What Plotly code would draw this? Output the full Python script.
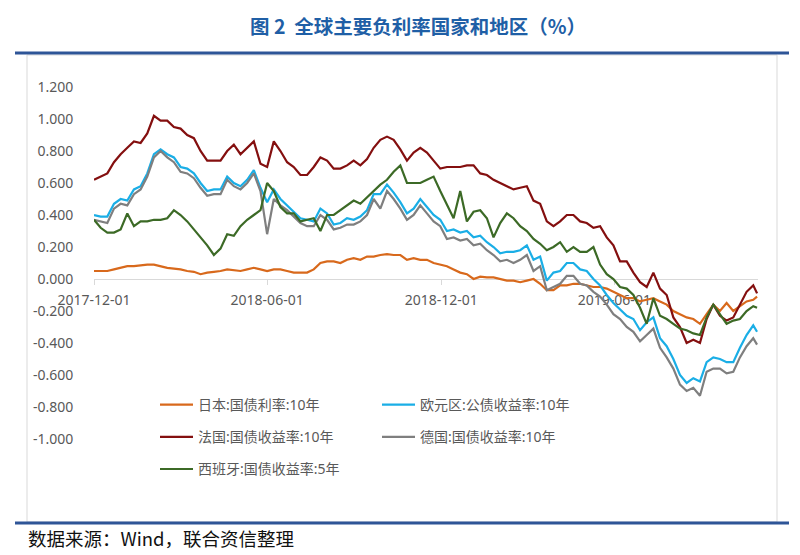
import pandas as pd
import plotly.graph_objects as go

# ---------------- data (weekly) ----------------
dates = list(pd.date_range("2017-12-01", periods=100, freq="7D").strftime("%Y-%m-%d")) + ["2019-10-29"]

japan = [0.05, 0.05, 0.05, 0.06, 0.07, 0.08, 0.08, 0.085, 0.09, 0.09,
         0.08, 0.07, 0.065, 0.06, 0.05, 0.045, 0.03, 0.04, 0.045, 0.05,
         0.06, 0.055, 0.05, 0.06, 0.07, 0.06, 0.05, 0.06, 0.06, 0.05,
         0.04, 0.04, 0.04, 0.06, 0.10, 0.11, 0.11, 0.10, 0.12, 0.13,
         0.12, 0.14, 0.14, 0.15, 0.155, 0.15, 0.15, 0.12, 0.13, 0.12,
         0.12, 0.10, 0.09, 0.08, 0.06, 0.04, 0.03, 0.00, 0.015, 0.01,
         0.01, 0.00, -0.01, -0.01, -0.02, -0.01, 0.00, -0.03, -0.07, -0.07,
         -0.04, -0.04, -0.03, -0.03, -0.04, -0.05, -0.05, -0.06, -0.08, -0.10,
         -0.12, -0.12, -0.14, -0.13, -0.12, -0.14, -0.16, -0.20, -0.22, -0.24,
         -0.25, -0.28, -0.22, -0.16, -0.20, -0.15, -0.20, -0.17, -0.14, -0.13,
         -0.11]

euro = [0.40, 0.39, 0.39, 0.47, 0.50, 0.49, 0.56, 0.58, 0.66, 0.78,
        0.81, 0.78, 0.76, 0.70, 0.69, 0.66, 0.60, 0.55, 0.56, 0.56,
        0.64, 0.60, 0.58, 0.62, 0.68, 0.57, 0.48, 0.56, 0.50, 0.46,
        0.42, 0.38, 0.37, 0.36, 0.44, 0.41, 0.34, 0.35, 0.38, 0.37,
        0.39, 0.43, 0.53, 0.53, 0.59, 0.54, 0.48, 0.41, 0.44, 0.50,
        0.45, 0.40, 0.37, 0.30, 0.31, 0.29, 0.30, 0.26, 0.27, 0.23,
        0.20, 0.16, 0.17, 0.17, 0.18, 0.21, 0.12, 0.14, -0.01, 0.04,
        0.05, 0.10, 0.10, 0.06, 0.05, 0.00, -0.04, -0.10, -0.15, -0.19,
        -0.23, -0.25, -0.32, -0.27, -0.24, -0.37, -0.42, -0.50, -0.60, -0.65,
        -0.62, -0.64, -0.52, -0.49, -0.50, -0.52, -0.52, -0.43, -0.35, -0.29,
        -0.33]

france = [0.62, 0.64, 0.66, 0.73, 0.78, 0.82, 0.86, 0.85, 0.91, 1.02,
          0.99, 0.99, 0.95, 0.94, 0.90, 0.88, 0.80, 0.74, 0.74, 0.74,
          0.80, 0.84, 0.78, 0.82, 0.86, 0.72, 0.70, 0.86, 0.80, 0.73,
          0.70, 0.65, 0.65, 0.70, 0.76, 0.74, 0.69, 0.69, 0.71, 0.74,
          0.71, 0.75, 0.82, 0.87, 0.89, 0.87, 0.81, 0.74, 0.79, 0.82,
          0.79, 0.74, 0.69, 0.70, 0.70, 0.70, 0.71, 0.71, 0.66, 0.65,
          0.62, 0.60, 0.58, 0.56, 0.57, 0.58, 0.49, 0.47, 0.36, 0.33,
          0.36, 0.40, 0.40, 0.36, 0.35, 0.32, 0.33, 0.26, 0.21, 0.11,
          0.11, 0.04, -0.02, -0.05, 0.04, -0.06, -0.10, -0.24, -0.30, -0.40,
          -0.38, -0.40, -0.25, -0.16, -0.23, -0.26, -0.24, -0.16, -0.08, -0.04,
          -0.09]

germany = [0.37, 0.36, 0.35, 0.44, 0.47, 0.46, 0.53, 0.56, 0.64, 0.76,
           0.80, 0.76, 0.73, 0.67, 0.66, 0.63, 0.57, 0.52, 0.53, 0.53,
           0.62, 0.58, 0.56, 0.60, 0.66, 0.55, 0.28, 0.50, 0.46, 0.43,
           0.39, 0.35, 0.33, 0.33, 0.40, 0.37, 0.31, 0.32, 0.34, 0.34,
           0.36, 0.40, 0.50, 0.44, 0.55, 0.50, 0.44, 0.37, 0.40, 0.46,
           0.41, 0.36, 0.33, 0.25, 0.26, 0.24, 0.25, 0.21, 0.22, 0.18,
           0.15, 0.11, 0.12, 0.10, 0.12, 0.15, 0.05, 0.08, -0.07, -0.05,
           -0.03, 0.02, 0.02, -0.03, -0.04, -0.08, -0.11, -0.16, -0.22, -0.25,
           -0.30, -0.33, -0.39, -0.35, -0.31, -0.43, -0.49, -0.56, -0.66, -0.70,
           -0.68, -0.73, -0.58, -0.56, -0.56, -0.59, -0.58, -0.49, -0.42, -0.37,
           -0.41]

spain = [0.37, 0.32, 0.29, 0.29, 0.31, 0.41, 0.33, 0.36, 0.36, 0.37,
         0.37, 0.38, 0.43, 0.40, 0.36, 0.31, 0.26, 0.21, 0.15, 0.19,
         0.28, 0.27, 0.33, 0.37, 0.40, 0.43, 0.60, 0.55, 0.45, 0.41,
         0.41, 0.36, 0.37, 0.38, 0.30, 0.40, 0.40, 0.43, 0.46, 0.49,
         0.47, 0.51, 0.55, 0.59, 0.62, 0.67, 0.71, 0.60, 0.60, 0.60,
         0.62, 0.64, 0.55, 0.47, 0.38, 0.55, 0.36, 0.42, 0.43, 0.38,
         0.26, 0.35, 0.41, 0.38, 0.33, 0.30, 0.25, 0.22, 0.18, 0.20,
         0.23, 0.17, 0.20, 0.17, 0.17, 0.20, 0.09, 0.03, 0.00, -0.05,
         -0.06, -0.10, -0.18, -0.28, -0.12, -0.23, -0.25, -0.28, -0.31, -0.32,
         -0.34, -0.35, -0.24, -0.16, -0.22, -0.28, -0.26, -0.25, -0.20, -0.17,
         -0.18]

series_names = ["日本:国债利率:10年", "欧元区:公债收益率:10年", "法国:国债收益率:10年",
                "德国:国债收益率:10年", "西班牙:国债收益率:5年"]

x_tick_vals = ["2017-12-01", "2018-06-01", "2018-12-01", "2019-06-01"]
x_tick_text = ["2017-12-01", "2018-06-01", "2018-12-01", "2019-06-01"]
y_tick_vals = [1.2, 1.0, 0.8, 0.6, 0.4, 0.2, 0.0, -0.2, -0.4, -0.6, -0.8, -1.0]
y_tick_text = ["1.200", "1.000", "0.800", "0.600", "0.400", "0.200", "0.000",
               "-0.200", "-0.400", "-0.600", "-0.800", "-1.000"]

title_text = "图 2  全球主要负利率国家和地区（%）"
source_text = "数据来源：Wind，联合资信整理"

# ---------------- styling ----------------
colors = ["#D8691C", "#1AAEE6", "#840F0F", "#7F7F7F", "#3C6A26"]
legend_ids = ["legend", "legend2", "legend", "legend2", "legend"]
W, H = 800, 555
FONT = "Noto Sans, Noto Sans CJK SC, sans-serif"
GRAY_TXT = "#595959"
AXIS_GRAY = "#D9D9D9"
BLUE = "#2E5597"

def px_x(x):
    return x / W

def px_y(y):
    return (H - y) / H

all_series = [japan, euro, france, germany, spain]

fig = go.Figure()
for name, vals, col, lg in zip(series_names, all_series, colors, legend_ids):
    fig.add_trace(go.Scatter(
        x=dates, y=vals, mode="lines", name=name,
        line=dict(color=col, width=2.2),
        legend=lg, legendgroup=name, hoverinfo="skip",
    ))

legend_style = dict(
    xanchor="left", yanchor="top",
    orientation="v", bgcolor="rgba(0,0,0,0)", borderwidth=0,
    font=dict(size=14, color=GRAY_TXT, family=FONT),
    tracegroupgap=11, itemwidth=33,
)

fig.update_layout(
    template="none",
    width=W, height=H,
    margin=dict(l=0, r=0, t=0, b=0, pad=0, autoexpand=False),
    paper_bgcolor="white", plot_bgcolor="white",
    font=dict(family=FONT, color=GRAY_TXT, size=14),
    hovermode=False,
    xaxis=dict(
        domain=[px_x(94), px_x(758)],
        range=["2017-12-01", "2019-10-30"],
        type="date", automargin=False,
        anchor="free", position=px_y(279),
        tickvals=x_tick_vals, ticktext=x_tick_text,
        showgrid=False, zeroline=False,
        showline=True, linecolor=AXIS_GRAY, linewidth=1,
        ticks="outside", ticklen=5, tickcolor=AXIS_GRAY, tickwidth=1,
        ticklabelstandoff=3,
        tickfont=dict(size=14, color=GRAY_TXT, family=FONT),
        layer="below traces",
    ),
    yaxis=dict(
        domain=[px_y(439), px_y(87)],
        range=[-1.0, 1.2], automargin=False,
        tickvals=y_tick_vals, ticktext=y_tick_text,
        showgrid=False, zeroline=False, showline=False,
        ticks="outside", ticklen=17, tickcolor="rgba(0,0,0,0)",
        tickfont=dict(size=14, color=GRAY_TXT, family=FONT),
    ),
    showlegend=True,
    legend=dict(x=px_x(155), y=px_y(389), **legend_style),
    legend2=dict(x=px_x(377), y=px_y(389), **legend_style),
    shapes=[
        # chart box
        dict(type="rect", xref="paper", yref="paper",
             x0=px_x(27), x1=px_x(777), y0=px_y(522), y1=px_y(55),
             line=dict(color=AXIS_GRAY, width=1), fillcolor="rgba(0,0,0,0)", layer="below"),
        # top and bottom blue rules
        dict(type="line", xref="paper", yref="paper",
             x0=px_x(15), x1=px_x(789), y0=px_y(53), y1=px_y(53),
             line=dict(color=BLUE, width=3)),
        dict(type="line", xref="paper", yref="paper",
             x0=px_x(15), x1=px_x(789), y0=px_y(523), y1=px_y(523),
             line=dict(color=BLUE, width=3)),
    ],
    annotations=[
        dict(text="<b>" + title_text + "</b>", xref="paper", yref="paper",
             x=px_x(418), y=px_y(26), xanchor="center", yanchor="middle",
             showarrow=False, font=dict(size=19.5, color="#1F5FA6", family="Noto Sans CJK SC")),
        dict(text=source_text, xref="paper", yref="paper",
             x=px_x(26), y=px_y(538), xanchor="left", yanchor="middle",
             showarrow=False, font=dict(size=18.5, color="#111111", family="Noto Sans CJK SC")),
    ],
)

fig.write_html("out.html", config={"displayModeBar": False, "staticPlot": True},
               post_script="document.body.style.margin='0';document.body.style.padding='0';")
